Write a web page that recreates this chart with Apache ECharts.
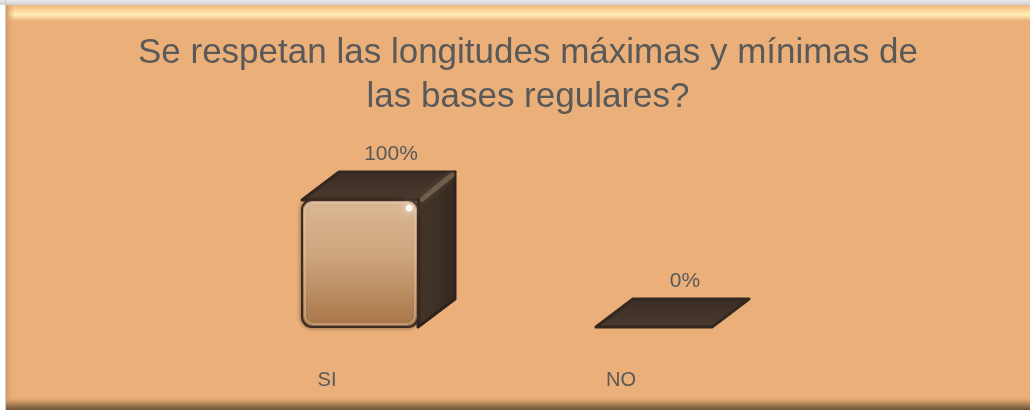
<!DOCTYPE html>
<html>
<head>
<meta charset="utf-8">
<script src="https://cdn.jsdelivr.net/npm/echarts@6/dist/echarts.min.js"></script>
<style>
  html, body { margin: 0; padding: 0; background: #ffffff; }
  #chart { width: 1030px; height: 410px; }
</style>
</head>
<body>
<div id="chart"></div>
<script>
// Survey answers and their share of responses
const categories = ['SI', 'NO'];
const percentages = [100, 0];
const titleLines = ['Se respetan las longitudes máximas y mínimas de', 'las bases regulares?'];

const TEXT = '#595959';
const PANEL = '#EBB079';
const BAR_W = 116;      // front face width
const DEPTH_X = 37;     // 3D depth offset
const DEPTH_Y = -28;

const chart = echarts.init(document.getElementById('chart'), null, { renderer: 'canvas' });

function renderBox(params, api) {
  const cat = api.value(0);
  const val = api.value(1);
  const base = api.coord([cat, 0]);
  const top = api.coord([cat, val]);
  const x0 = base[0] - BAR_W / 2, x1 = base[0] + BAR_W / 2;
  const yb = base[1], yt = top[1];
  const h = yb - yt;
  const children = [];

  // top face
  children.push({
    type: 'polygon',
    shape: { points: [[x0, yt], [x1, yt], [x1 + DEPTH_X, yt + DEPTH_Y], [x0 + DEPTH_X, yt + DEPTH_Y]] },
    style: {
      fill: new echarts.graphic.LinearGradient(0, 0, 0, 1, [
        { offset: 0, color: '#3a2d25' }, { offset: 1, color: '#4a3a2e' }
      ]),
      stroke: '#33271f', lineWidth: 3, lineJoin: 'round'
    }
  });

  if (h > 0.5) {
    // right side face
    children.push({
      type: 'polygon',
      shape: { points: [[x1, yt], [x1 + DEPTH_X, yt + DEPTH_Y], [x1 + DEPTH_X, yb + DEPTH_Y], [x1, yb]] },
      style: {
        fill: new echarts.graphic.LinearGradient(0, 0, 1, 0, [
          { offset: 0, color: '#463629' }, { offset: 1, color: '#352920' }
        ]),
        stroke: '#2e231c', lineWidth: 3, lineJoin: 'round'
      }
    });
    // soft highlight on the top-right edge
    children.push({
      type: 'line',
      shape: { x1: x1 + 4, y1: yt - 1, x2: x1 + DEPTH_X - 3, y2: yt + DEPTH_Y + 3 },
      style: { stroke: 'rgba(150,125,100,0.55)', lineWidth: 5, lineCap: 'round', shadowBlur: 6, shadowColor: 'rgba(150,125,100,0.6)' }
    });
    // front face
    children.push({
      type: 'rect',
      shape: { x: x0, y: yt, width: BAR_W, height: h, r: 10 },
      style: {
        fill: new echarts.graphic.LinearGradient(0, 0, 0, 1, [
          { offset: 0, color: '#dcb895' },
          { offset: 0.45, color: '#cda47c' },
          { offset: 1, color: '#a87546' }
        ]),
        stroke: '#3a2c22', lineWidth: 2,
        shadowBlur: 4, shadowColor: 'rgba(40,28,20,0.5)'
      }
    });
    // inner bevel rim
    children.push({
      type: 'rect',
      shape: { x: x0 + 3, y: yt + 3, width: BAR_W - 6, height: h - 6, r: 8 },
      style: { fill: 'none', stroke: 'rgba(255,235,210,0.35)', lineWidth: 2 }
    });
    // glint at the corner
    children.push({
      type: 'circle',
      shape: { cx: x1 - 9, cy: yt + 8, r: 3.5 },
      style: { fill: '#fffaf0', shadowBlur: 10, shadowColor: '#ffffff' }
    });
  }

  // value label above the box
  children.push({
    type: 'text',
    style: {
      x: base[0] + 31, y: yt + DEPTH_Y - 18,
      text: val + '%',
      fill: TEXT, font: '21px "Liberation Sans", Arial, sans-serif',
      align: 'center', verticalAlign: 'middle'
    }
  });

  return { type: 'group', children: children };
}

const option = {
  animation: false,
  backgroundColor: 'transparent',
  graphic: [
    // outer page strip
    { type: 'rect', shape: { x: 0, y: 0, width: 1030, height: 410 }, style: { fill: '#ffffff' }, z: -10 },
    { type: 'rect', shape: { x: 0, y: 0, width: 1030, height: 5 },
      style: { fill: new echarts.graphic.LinearGradient(0, 0, 0, 1, [
        { offset: 0, color: '#ececec' }, { offset: 1, color: '#cfcfcf' }]) }, z: -10 },
    { type: 'rect', shape: { x: 5, y: 0, width: 1, height: 410 }, style: { fill: '#c9c9c9' }, z: -10 },
    // panel
    { type: 'rect', shape: { x: 6, y: 5, width: 1024, height: 405 }, style: { fill: PANEL }, z: -9 },
    // top bevel highlight
    { type: 'rect', shape: { x: 6, y: 5, width: 1024, height: 16 },
      style: { fill: new echarts.graphic.LinearGradient(0, 0, 0, 1, [
        { offset: 0, color: '#efb77f' },
        { offset: 0.35, color: '#fbd79c' },
        { offset: 0.6, color: '#fff0b8' },
        { offset: 1, color: PANEL }]) }, z: -8 },
    // left bevel
    { type: 'rect', shape: { x: 6, y: 5, width: 9, height: 405 },
      style: { fill: new echarts.graphic.LinearGradient(0, 0, 1, 0, [
        { offset: 0, color: '#d49a63' },
        { offset: 1, color: 'rgba(235,176,121,0)' }]) }, z: -8 },
    // bottom bevel shadow
    { type: 'rect', shape: { x: 6, y: 396, width: 1024, height: 14 },
      style: { fill: new echarts.graphic.LinearGradient(0, 0, 0, 1, [
        { offset: 0, color: 'rgba(235,176,121,0)' },
        { offset: 0.5, color: '#b98a5c' },
        { offset: 1, color: '#6e5235' }]) }, z: -8 }
  ],
  title: {
    text: titleLines.join('\n'),
    left: 523,
    textAlign: 'center',
    top: 26,
    textStyle: {
      color: TEXT,
      fontFamily: '"Liberation Sans", Arial, sans-serif',
      fontWeight: 'normal',
      fontSize: 35,
      lineHeight: 44
    }
  },
  grid: { left: 213, right: 229, top: 200, bottom: 83 },
  xAxis: {
    type: 'category',
    data: categories,
    axisLine: { show: false },
    axisTick: { show: false },
    axisLabel: {
      color: TEXT,
      fontSize: 20,
      fontFamily: '"Liberation Sans", Arial, sans-serif',
      margin: 43,
      padding: [0, 66, 0, 0]
    }
  },
  yAxis: { type: 'value', min: 0, max: 100, show: false },
  series: [{
    type: 'custom',
    renderItem: renderBox,
    data: categories.map((c, i) => [i, percentages[i]]),
    encode: { x: 0, y: 1 },
    clip: false
  }]
};

chart.setOption(option);
</script>
</body>
</html>
